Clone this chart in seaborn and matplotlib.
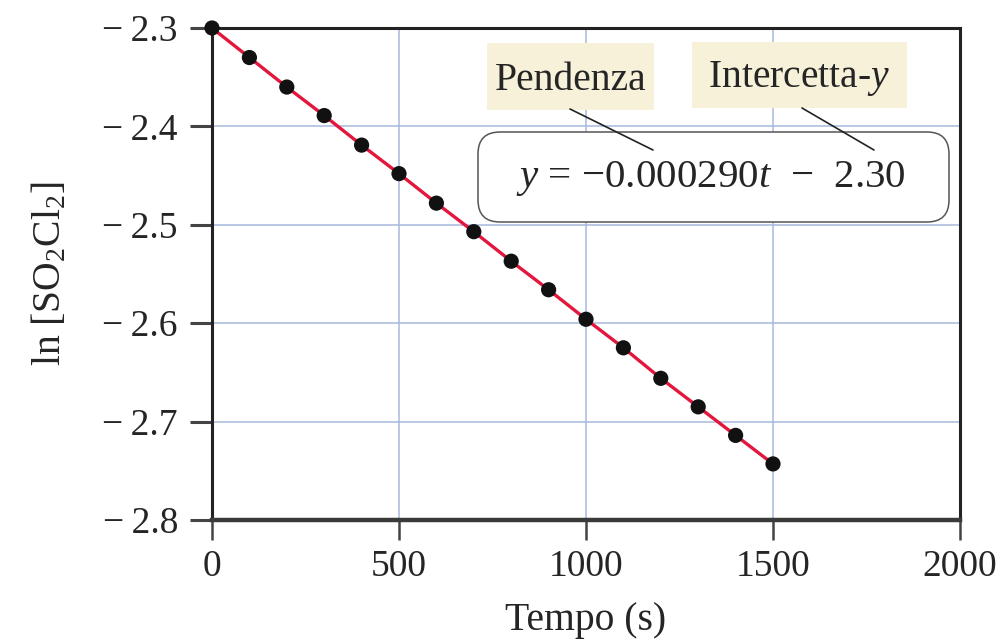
import matplotlib
matplotlib.use("Agg")
import matplotlib.pyplot as plt
from matplotlib.patches import FancyBboxPatch, Rectangle
from matplotlib.lines import Line2D
import seaborn as sns
import pandas as pd

# Data
tempo = [0, 100, 200, 300, 400, 500, 600, 700, 800, 900, 1000, 1100, 1200, 1300, 1400, 1500]
ln_so2cl2 = [-2.300, -2.330, -2.360, -2.389, -2.419, -2.448, -2.478, -2.507, -2.537,
             -2.566, -2.596, -2.625, -2.656, -2.685, -2.714, -2.743]
x_ticks = [0, 500, 1000, 1500, 2000]
y_ticks = [-2.3, -2.4, -2.5, -2.6, -2.7, -2.8]
equation = r"$y$ = −0.000290$t$  −  2.30"
label_slope = "Pendenza"
label_intercept = "Intercetta-$y$"
x_label = "Tempo (s)"
y_label = r"ln [SO$_2$Cl$_2$]"

sns.set_theme(style="white")
plt.rcParams["font.family"] = ["Liberation Serif", "DejaVu Serif"]
plt.rcParams["mathtext.fontset"] = "custom"
plt.rcParams["mathtext.rm"] = "Liberation Serif"
plt.rcParams["mathtext.it"] = "Liberation Serif:italic"
plt.rcParams["axes.unicode_minus"] = True

df = pd.DataFrame({"t": tempo, "lnc": ln_so2cl2})
txt = "#252525"

fig = plt.figure(figsize=(10.03, 6.42), dpi=100)
ax = fig.add_axes([212 / 1003, 1 - 520 / 642, 748 / 1003, 492 / 642])

grid_color = "#a7b9dc"
for gx in x_ticks[1:-1]:
    ax.axvline(gx, color=grid_color, lw=1.1, zorder=0)
for gy in y_ticks[1:-1]:
    ax.axhline(gy, color=grid_color, lw=1.1, zorder=0)

sns.lineplot(data=df, x="t", y="lnc", ax=ax, color="#e3173e", lw=2.4, zorder=2)
sns.scatterplot(data=df, x="t", y="lnc", ax=ax, color="#111111", s=120,
                edgecolor="none", zorder=4)
for coll in ax.collections:
    coll.set_clip_on(False)

ax.set_xlim(0, 2000)
ax.set_ylim(-2.8, -2.3)
ax.set_xticks(x_ticks)
ax.set_yticks(y_ticks)
ax.set_xticklabels([str(v) for v in x_ticks])
ax.set_yticklabels([f"{v:.1f}".replace("-", "−\u2009") for v in y_ticks])
ax.tick_params(axis="both", labelsize=27, colors="#444444", labelcolor=txt)
ax.tick_params(axis="y", direction="out", length=16, width=2.2, left=True, pad=8.5)
ax.tick_params(axis="x", direction="out", length=14.5, width=1.8, bottom=True, pad=7)
for name, sp in ax.spines.items():
    sp.set_visible(True)
    sp.set_color("#222222")
    sp.set_linewidth(2.2)
ax.spines["bottom"].set_color("#3a3a3a")
ax.spines["bottom"].set_linewidth(3.2)
ax.spines["top"].set_zorder(3)

ax.set_xlabel(x_label, fontsize=28.5, color=txt, labelpad=13)
ax.set_ylabel(y_label, fontsize=28.5, color=txt, labelpad=24)

T = fig.dpi_scale_trans
# equation box
fig.patches.append(FancyBboxPatch((4.78, 4.20), 4.71, 0.90,
                                  boxstyle="round,pad=0,rounding_size=0.22",
                                  transform=T, facecolor="white",
                                  edgecolor="#555555", lw=1.1, zorder=5))
fig.text(7.11, 4.55, equation, transform=T, fontsize=29.5,
         ha="center", va="baseline", color=txt, zorder=6)

beige = "#f7f1da"
fig.patches.append(Rectangle((4.87, 5.32), 1.67, 0.67, transform=T,
                             facecolor=beige, edgecolor="none", zorder=5))
fig.patches.append(Rectangle((6.92, 5.34), 2.15, 0.66, transform=T,
                             facecolor=beige, edgecolor="none", zorder=5))
fig.text(5.705, 5.52, label_slope, transform=T, fontsize=28.5,
         ha="center", va="baseline", color=txt, zorder=6)
fig.text(7.995, 5.55, label_intercept, transform=T, fontsize=28.5,
         ha="center", va="baseline", color=txt, zorder=6)
fig.lines.append(Line2D([5.70, 6.53], [5.33, 4.92], transform=T, color="#222222", lw=1.2, zorder=6))
fig.lines.append(Line2D([8.02, 8.74], [5.34, 4.92], transform=T, color="#222222", lw=1.2, zorder=6))

fig.savefig("out.png", dpi=100)
